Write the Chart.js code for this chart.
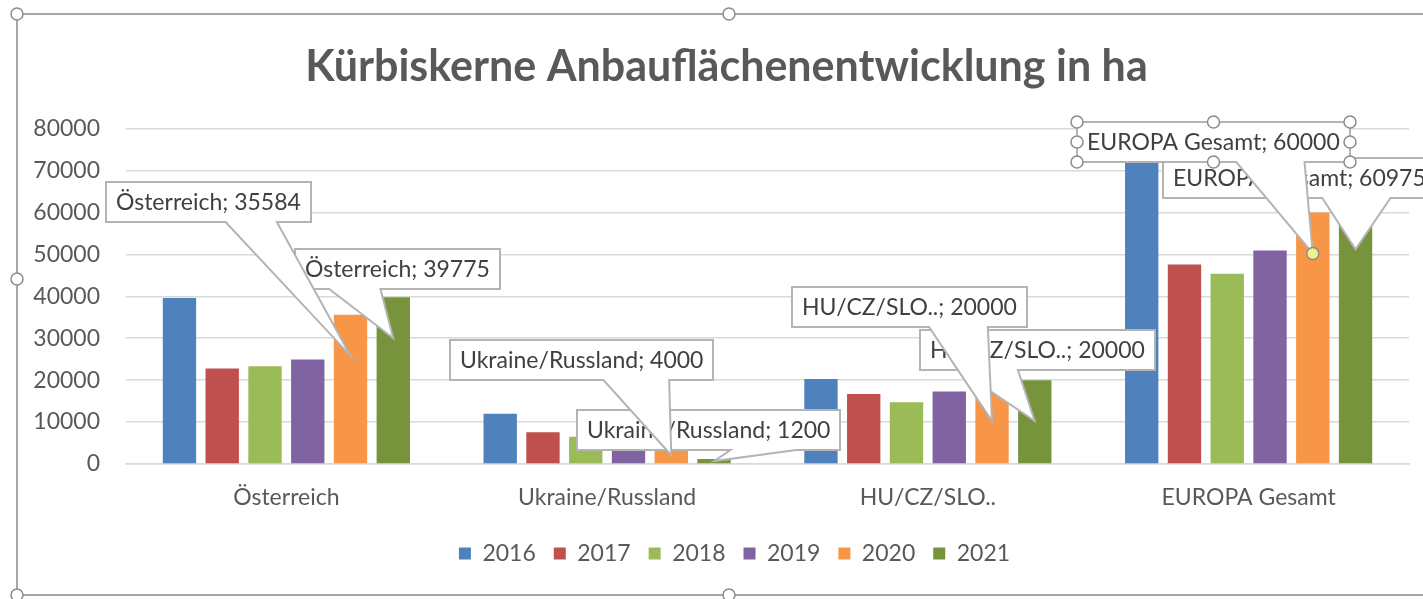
<!DOCTYPE html>
<html lang="de">
<head>
<meta charset="utf-8">
<title>Kürbiskerne Anbauflächenentwicklung in ha</title>
<script src="https://cdn.jsdelivr.net/npm/chart.js@4/dist/chart.umd.min.js"></script>
<style>
  html, body { margin: 0; padding: 0; background: #fff; overflow: hidden; }
  #wrap { position: relative; width: 1423px; height: 599px; }
</style>
</head>
<body>
<div id="wrap"><canvas id="chart"></canvas></div>
<script>
const categories = ['Österreich', 'Ukraine/Russland', 'HU/CZ/SLO..', 'EUROPA Gesamt'];
const years = ['2016', '2017', '2018', '2019', '2020', '2021'];

// Werte in ha
const values2016 = [39600, 12000, 20300, 76000];
const values2017 = [22800, 7600, 16700, 47600];
const values2018 = [23300, 6500, 14700, 45400];
const values2019 = [24900, 3500, 17300, 50900];
const values2020 = [35584, 4000, 20000, 60000];
const values2021 = [39775, 1200, 20000, 60975];

const yMin = 0;
const yMax = 80000;
const yStep = 10000;

const seriesColors = ['#4f81bd', '#c0504d', '#9bbb59', '#8064a2', '#f79646', '#77933c'];
const textColor = '#595959';
const fontFamily = 'Lato, "Open Sans", sans-serif';

// Beschriftungsfelder (linke obere Ecke in px), erst 2021, dann 2020 drüber
const callouts = [
    { ds: 5, i: 0, x: 295, y: 249 },
    { ds: 5, i: 1, x: 577, y: 410 },
    { ds: 5, i: 2, x: 920, y: 330 },
    { ds: 5, i: 3, x: 1163, y: 158 },
    { ds: 4, i: 0, x: 106, y: 182 },
    { ds: 4, i: 1, x: 450, y: 340 },
    { ds: 4, i: 2, x: 792, y: 287 },
    { ds: 4, i: 3, x: 1077, y: 122, selected: true }
];

const allValues = [values2016, values2017, values2018, values2019, values2020, values2021];

function handle(ctx, x, y, fill) {
    ctx.beginPath();
    ctx.arc(x, y, 6, 0, Math.PI * 2);
    ctx.fillStyle = fill || '#fff';
    ctx.fill();
    ctx.lineWidth = 1.5;
    ctx.strokeStyle = '#8c8c8c';
    ctx.stroke();
}

const calloutPlugin = {
    id: 'callouts',
    afterDatasetsDraw(chart) {
        const ctx = chart.ctx;
        ctx.save();
        ctx.font = '23px ' + fontFamily;
        callouts.forEach(c => {
            const bar = chart.getDatasetMeta(c.ds).data[c.i];
            const value = chart.data.datasets[c.ds].data[c.i];
            const text = categories[c.i] + '; ' + value;
            const w = Math.round(ctx.measureText(text).width) + 20;
            const h = 40;
            const tipX = bar.x;
            const tipY = bar.y + Math.min(41, (bar.base - bar.y) / 2);
            const right = tipX > c.x + w / 2;
            const x1 = c.x + w * (right ? 7 : 2) / 12;
            const x2 = c.x + w * (right ? 10 : 5) / 12;
            ctx.beginPath();
            ctx.moveTo(c.x, c.y);
            ctx.lineTo(c.x + w, c.y);
            ctx.lineTo(c.x + w, c.y + h);
            ctx.lineTo(x2, c.y + h);
            ctx.lineTo(tipX, tipY);
            ctx.lineTo(x1, c.y + h);
            ctx.lineTo(c.x, c.y + h);
            ctx.closePath();
            ctx.fillStyle = '#fff';
            ctx.fill();
            ctx.lineWidth = 2;
            ctx.strokeStyle = '#b4b4b4';
            ctx.stroke();
            ctx.fillStyle = '#404040';
            ctx.textBaseline = 'middle';
            ctx.textAlign = 'left';
            ctx.fillText(text, c.x + 10, c.y + h / 2 + 1);
            if (c.selected) {
                [[0, 0], [0.5, 0], [1, 0], [0, 0.5], [1, 0.5], [0, 1], [0.5, 1], [1, 1]].forEach(p => {
                    handle(ctx, c.x + w * p[0], c.y + h * p[1]);
                });
                handle(ctx, tipX, tipY, '#f2f28c');
            }
        });
        ctx.restore();
    }
};

// Auswahlrahmen des Diagramms wie in Excel
const framePlugin = {
    id: 'frame',
    afterLayout(chart) {
        // Titel und Legende auf die Mitte des ganzen (breiteren) Diagramms setzen
        chart.legend.left += 30;
        chart.legend.right += 30;
        chart.titleBlock.left += 22;
        chart.titleBlock.right += 22;
    },
    afterDraw(chart) {
        const ctx = chart.ctx;
        ctx.save();
        ctx.strokeStyle = '#a6a6a6';
        ctx.lineWidth = 2;
        ctx.beginPath();
        ctx.moveTo(1423, 14);
        ctx.lineTo(17, 14);
        ctx.lineTo(17, 595);
        ctx.lineTo(1423, 595);
        ctx.stroke();
        [[17, 14], [729, 14], [17, 279], [17, 595], [729, 595]].forEach(p => handle(ctx, p[0], p[1]));
        ctx.restore();
    }
};

const ctx = document.getElementById('chart').getContext('2d');

new Chart(ctx, {
    type: 'bar',
    data: {
        labels: categories,
        datasets: years.map((y, k) => ({
            label: y,
            data: allValues[k],
            backgroundColor: seriesColors[k],
            barPercentage: 0.78,
            categoryPercentage: 0.8
        }))
    },
    options: {
        responsive: true,
        maintainAspectRatio: false,
        animation: false,
        layout: { padding: { top: 0, left: 0, right: 14, bottom: 24 } },
        plugins: {
            title: {
                display: true,
                text: 'Kürbiskerne Anbauflächenentwicklung in ha',
                color: textColor,
                font: { family: fontFamily, size: 43, weight: 'bold' },
                padding: { top: 41, bottom: 36 }
            },
            legend: {
                position: 'bottom',
                labels: {
                    boxWidth: 12,
                    boxHeight: 12,
                    padding: 18,
                    color: textColor,
                    font: { family: fontFamily, size: 23 }
                }
            },
            tooltip: { enabled: false }
        },
        scales: {
            x: {
                grid: { display: false, drawTicks: false },
                border: { color: '#d9d9d9', width: 1.5 },
                ticks: {
                    color: textColor,
                    padding: 20,
                    font: { family: fontFamily, size: 23 }
                },
                afterFit: s => { s.height = 60; }
            },
            y: {
                min: yMin,
                max: yMax,
                grid: { color: '#d9d9d9', lineWidth: 1.5, drawTicks: false },
                border: { display: false },
                ticks: {
                    stepSize: yStep,
                    color: textColor,
                    padding: 26,
                    font: { family: fontFamily, size: 23 },
                    callback: v => String(v)
                },
                afterFit: s => { s.width = 126; }
            }
        }
    },
    plugins: [calloutPlugin, framePlugin]
});
</script>
</body>
</html>
